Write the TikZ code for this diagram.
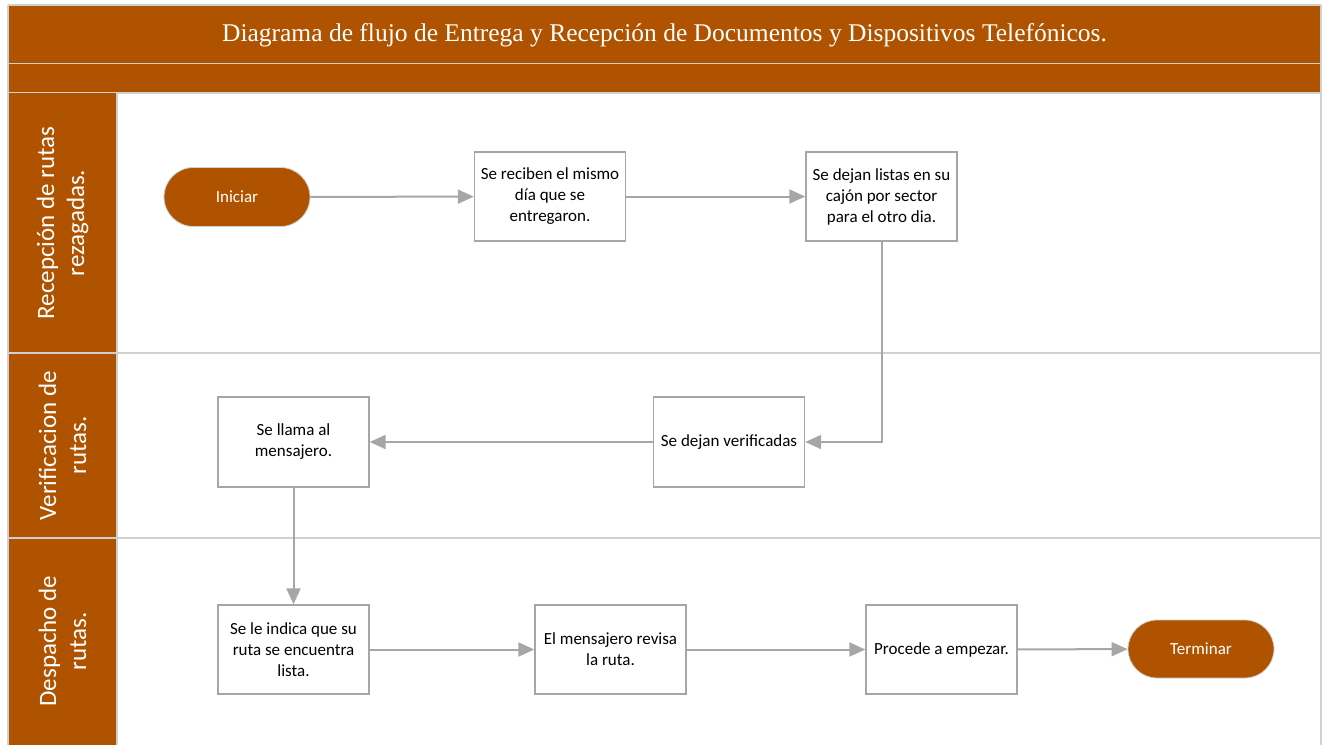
\documentclass[tikz,border=0pt]{standalone}
\usepackage{fontspec}
\setmainfont{Liberation Serif}
\newfontfamily\boxfont{Carlito}
\usetikzlibrary{arrows.meta,shapes.misc}
\definecolor{rust}{RGB}{175,83,0}
\definecolor{rule}{RGB}{208,208,208}
\definecolor{wire}{RGB}{166,166,166}
\tikzset{
  stepbox/.style={draw=wire,line width=1.4pt,fill=white,minimum width=151pt,minimum height=89pt,
    inner sep=2pt,align=center,font=\boxfont\fontsize{17}{21}\selectfont,text=black},
  terminal/.style={rounded rectangle,draw=rule,line width=0.8pt,fill=rust,minimum width=150pt,minimum height=59pt,
    inner sep=2pt,font=\boxfont\fontsize{17}{21}\selectfont,text=white},
  flow/.style={draw=wire,line width=2pt,-{Triangle[length=16pt,width=14pt]}},
  lanelabel/.style={rotate=90,align=center,text=white,font=\boxfont\fontsize{25}{30}\selectfont},
}
\begin{document}
\begin{tikzpicture}[x=1pt,y=-1pt]
\useasboundingbox (0,0) rectangle (1324,744);
\fill[white] (0,0) rectangle (1324,744);
\begin{scope}
\clip (0,0) rectangle (1324,744);
% header bars
\fill[rust] (8,5) rectangle (1321,93);
\draw[rule,line width=1.2pt] (8,5) -- (1321,5);
\draw[rule,line width=1.2pt] (8,63.5) -- (1321,63.5);
\draw[rule,line width=1.2pt] (8,93) -- (1321,93);
% lane label column
\fill[rust] (8,93) rectangle (117,760);
% lane dividers and frame
\draw[rule,line width=1.2pt] (8,353) -- (1321,353);
\draw[rule,line width=1.2pt] (8,538) -- (1321,538);
\draw[rule,line width=1.2pt] (117,93) -- (117,760);
\draw[rule,line width=1.2pt] (8,5) -- (8,760);
\draw[rule,line width=1.2pt] (1321,5) -- (1321,760);
\end{scope}

\node[text=white,font=\fontsize{25.5}{30}\selectfont] (title) at (664.5,35)
  {Diagrama de flujo de Entrega y Recepción de Documentos y Dispositivos Telefónicos.};

\node[lanelabel] (lane1) at (62.5,223) {Recepción de rutas\\rezagadas.};
\node[lanelabel] (lane2) at (62.5,445.5) {Verificacion de\\rutas.};
\node[lanelabel] (lane3) at (62.5,641) {Despacho de\\rutas.};

% steps
\node[terminal] (start) at (237,197) {Iniciar};
\node[stepbox] (recv) at (550,196.5) {Se reciben el mismo\\día que se\\entregaron.};
\node[stepbox] (sort) at (881.5,196.5) {Se dejan listas en su\\cajón por sector\\para el otro dia.};
\node[stepbox,minimum height=90pt] (check) at (729,442) {Se dejan verificadas};
\node[stepbox,minimum height=90pt] (call) at (293.5,442) {Se llama al\\mensajero.};
\node[stepbox] (tell) at (293.5,649.5) {Se le indica que su\\ruta se encuentra\\lista.};
\node[stepbox] (review) at (610.5,649.5) {El mensajero revisa\\la ruta.};
\node[stepbox] (go) at (941.5,649.5) {Procede a empezar.};
\node[terminal,minimum height=58pt] (stop) at (1201,649) {Terminar};

% connectors
\draw[flow] (start) -- (recv);
\draw[flow] (recv) -- (sort);
\draw[flow] (sort.south) |- (check.east);
\draw[flow] (check) -- (call);
\draw[flow] (call) -- (tell);
\draw[flow] (tell) -- (review);
\draw[flow] (review) -- (go);
\draw[flow] (go) -- (stop);
\end{tikzpicture}
\end{document}
